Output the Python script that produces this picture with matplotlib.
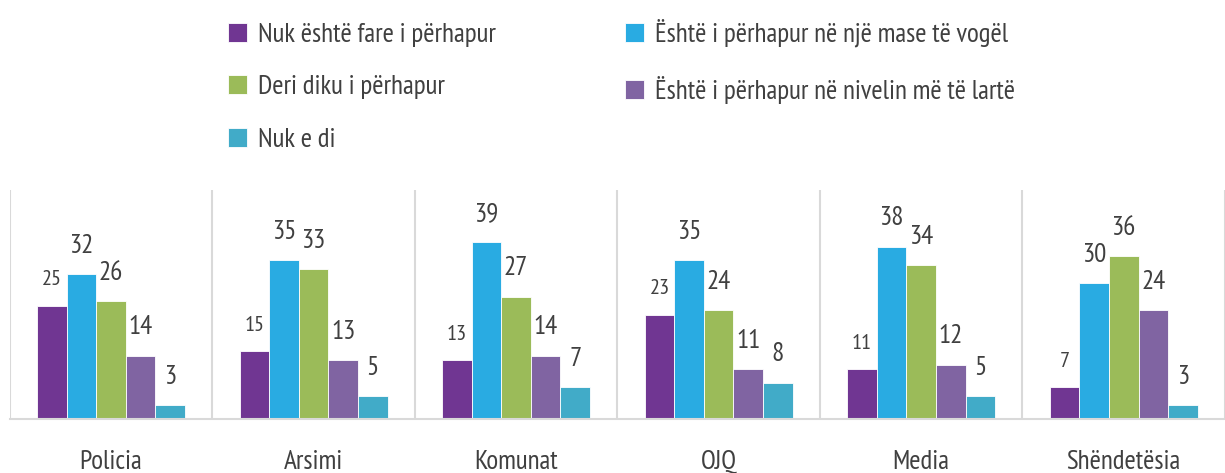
import numpy as np
import matplotlib.pyplot as plt
from matplotlib import font_manager

# 細めのフォントを探す
names = set(f.name for f in font_manager.fontManager.ttflist)
font = 'DejaVu Sans'
for cand in ['PT Sans Narrow', 'Fira Sans Condensed', 'Roboto Condensed',
             'Open Sans Condensed', 'Asap Condensed', 'Barlow Semi Condensed',
             'Liberation Sans Narrow']:
    if cand in names:
        font = cand
        break
plt.rcParams['font.family'] = [font, 'DejaVu Sans']

# データ
categories = ['Policia', 'Arsimi', 'Komunat', 'OJQ', 'Media', 'Shëndetësia']
series_names = ['Nuk është fare i përhapur', 'Është i përhapur në një mase të vogël',
                'Deri diku i përhapur', 'Është i përhapur në nivelin më të lartë',
                'Nuk e di']
nuk_fare = [25, 15, 13, 23, 11, 7]
mase_vogel = [32, 35, 39, 35, 38, 30]
deri_diku = [26, 33, 27, 24, 34, 36]
niveli_larte = [14, 13, 14, 11, 12, 24]
nuk_di = [3, 5, 7, 8, 5, 3]

values = [nuk_fare, mase_vogel, deri_diku, niveli_larte, nuk_di]
colors = ['#703692', '#29abe2', '#9bbb59', '#8064a2', '#41abc8']
txt = '#404040'

fig = plt.figure(figsize=(12.25, 4.73), dpi=100)
ax = fig.add_axes([0.008, 0.114, 0.992, 0.484])

x = np.arange(len(categories))
w = 0.146
handles = []
for i, (vals, c) in enumerate(zip(values, colors)):
    pos = x + (i - 2) * w
    b = ax.bar(pos, vals, w, color=c, edgecolor='white', linewidth=0.6)
    handles.append(b)
    fs = 16 if i == 0 else 19.5
    for p, v in zip(pos, vals):
        ax.text(p, v + 3.6, str(v), ha='center', va='bottom', fontsize=fs, color=txt)

# グループの区切り線
for k in range(len(categories) + 1):
    ax.axvline(k - 0.5, color='#d9d9d9', linewidth=1.5, zorder=0)

ax.set_xlim(-0.5, len(categories) - 0.5)
ax.set_ylim(0, 50.5)
ax.set_yticks([])
ax.set_xticks(x)
ax.set_xticklabels(categories, fontsize=19.5, color=txt)
ax.tick_params(axis='x', length=0, pad=22)
for s in ['top', 'right', 'left']:
    ax.spines[s].set_visible(False)
ax.spines['bottom'].set_color('#d9d9d9')
ax.spines['bottom'].set_linewidth(1.5)

# 凡例
order = [0, 2, 4, 1, 3]
leg = fig.legend([handles[i] for i in order], [series_names[i] for i in order],
                 ncol=2, loc='upper left', bbox_to_anchor=(0.166, 1.012),
                 frameon=False, fontsize=19.5, handlelength=0.7, handleheight=0.7,
                 handletextpad=0.4, columnspacing=4.8, labelspacing=1.05)
for t in leg.get_texts():
    t.set_color(txt)

plt.savefig('out.png', dpi=100)
